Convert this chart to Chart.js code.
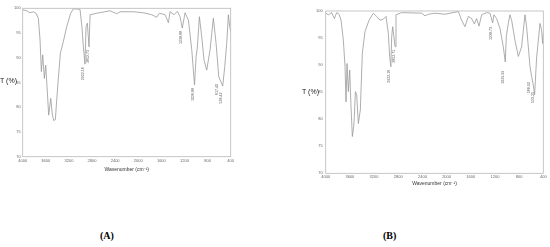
<!DOCTYPE html>
<html><head><meta charset="utf-8">
<script src="https://cdn.jsdelivr.net/npm/chart.js@4.4.1/dist/chart.umd.min.js"></script>
<style>
html,body{margin:0;padding:0;background:#fff;width:550px;height:247px;overflow:hidden;position:relative;font-family:"Liberation Sans",Arial,sans-serif}
.box{position:absolute}
.yt{position:absolute;font-size:7px;color:#222;white-space:nowrap;line-height:1}
.cap{position:absolute;font-family:"Liberation Serif","Times New Roman",serif;font-weight:bold;font-size:10px;color:#000;line-height:1;white-space:nowrap}
</style></head><body>
<div class="box" id="wA" style="left:0;top:0;width:250px;height:176px"><canvas id="cA"></canvas></div>
<div class="box" id="wB" style="left:300px;top:0;width:250px;height:190px"><canvas id="cB"></canvas></div>
<div class="yt" style="left:0px;top:77px">T (%)</div>
<div class="yt" style="left:302px;top:88px">T (%)</div>
<div class="cap" style="left:100px;top:231px">(A)</div>
<div class="cap" style="left:383px;top:231px">(B)</div>
<script>
// ---- data ----
const waveA = [4000,3931,3873,3815,3769,3729,3700,3677,3654,3625,3602,3579,3550,3515,3486,3463,3435,3411,3383,3348,3296,3238,3169,3123,3008,2973,2950,2922,2904,2881,2852,2834,2719,2488,2373,2315,2084,1911,1767,1680,1634,1536,1478,1450,1380,1323,1277,1238,1190,1132,1074,1026,999,976,942,902,861,815,757,700,653,607,584,538,503,469,440,417,400];
const transA = [99.7,99.5,99.1,99.3,99.0,98.0,93.6,87.2,90.6,85.8,88.5,84.2,78.4,81.8,78.4,77.3,77.5,81.5,85.8,90.9,93.3,96.3,99.0,99.9,99.8,96.0,92.2,88.7,96.3,97.0,92.2,98.7,99.0,99.5,98.9,99.3,99.3,99.1,98.7,98.2,99.0,98.7,97.1,99.3,98.7,99.4,98.3,96.0,99.1,97.6,91.6,84.5,90.2,92.2,98.3,94.3,89.5,87.5,91.6,98.0,92.9,86.2,85.5,84.3,88.2,92.9,98.7,96.3,95.3];
const waveB = [4000,3956,3901,3857,3818,3779,3746,3708,3680,3664,3647,3625,3603,3581,3559,3537,3526,3509,3487,3460,3427,3394,3350,3283,3212,3157,3101,3046,3002,2964,2942,2922,2908,2892,2852,2837,2743,2412,2357,2302,2192,2026,1806,1751,1696,1640,1585,1541,1503,1464,1420,1337,1282,1238,1216,1172,1117,1062,1029,1012,979,952,924,869,813,759,703,676,620,593,566,544,511,455,428,411,400];
const transB = [99.6,99.3,99.7,98.6,99.7,99.4,98.3,94.6,89.7,83.2,90.3,85.1,89.1,82.3,76.8,78.6,80.5,85.1,84.5,79.2,81.7,92.2,96.2,98.3,99.6,99.0,98.3,98.5,99.0,95.9,91.6,89.7,95.3,97.1,93.4,99.3,99.7,99.6,99.1,99.4,99.6,99.4,99.9,98.3,97.1,99.0,98.6,97.6,98.6,97.2,99.3,99.7,99.6,97.8,99.3,98.6,96.8,93.4,90.6,95.3,97.7,99.3,98.3,94.6,91.6,93.4,99.3,97.1,89.7,87.9,86.3,84.5,91.3,97.7,96.5,94.0,95.9];
const peakTextA = ["2922.16","2852.73","1238.88","1026.88","617.40","536.42"];
const peakWaveA = [2922,2852,1238,1026,615,545];
const peakTransA = [88.7,92.2,96.0,84.5,85.3,83.6];
const peakTextB = ["2922.16","2852.71","1238.73","1029.99","568.90","523.25"];
const peakWaveB = [2922,2852,1238,1040,612,550];
const peakTransB = [89.7,93.4,97.6,89.5,87.4,85.6];
const waveMin = 400, waveMax = 4000, waveStep = 400;
const tMin = 70, tMax = 100, tStep = 5;
const xTitle = "Wavenumber (cm\u207B\u00B9)";

const framePlugin = {
  id: 'frame',
  afterDatasetsDraw(chart, args, opts) {
    const {ctx, chartArea: a, scales: {x, y}} = chart;
    ctx.save();
    ctx.strokeStyle = '#b8b8b8';
    ctx.lineWidth = 0.8;
    ctx.strokeRect(a.left, a.top, a.right - a.left, a.bottom - a.top);
    ctx.fillStyle = '#555';
    ctx.font = '3.6px "Liberation Sans", Arial, sans-serif';
    ctx.textAlign = 'right';
    ctx.textBaseline = 'middle';
    opts.text.forEach((t, i) => {
      const px = x.getPixelForValue(opts.wave[i]);
      const py = y.getPixelForValue(opts.trans[i]);
      ctx.save();
      ctx.translate(px - 1.5, py + 3);
      ctx.rotate(-Math.PI / 2);
      ctx.fillText(t, 0, 0);
      ctx.restore();
    });
    ctx.restore();
  }
};

function makeChart(id, wave, trans, pk, dims) {
  const pts = wave.map((w, i) => ({x: w, y: trans[i]}));
  return new Chart(document.getElementById(id), {
    type: 'line',
    data: {datasets: [{data: pts, borderColor: '#999', borderWidth: 0.8, pointRadius: 0, tension: 0, fill: false}]},
    options: {
      responsive: true, maintainAspectRatio: false, animation: false,
      events: [],
      layout: {padding: {top: dims.top, right: dims.right, left: 0, bottom: 0}},
      plugins: {legend: {display: false}, tooltip: {enabled: false}, frame: pk},
      scales: {
        x: {
          type: 'linear', reverse: true, min: waveMin, max: waveMax,
          grid: {display: false, drawTicks: false}, border: {display: false},
          ticks: {stepSize: waveStep, autoSkip: false, maxRotation: 0, minRotation: 0, padding: dims.xpad,
                  color: '#666', font: {size: 4, family: '"Liberation Sans", Arial, sans-serif'},
                  callback: v => String(v)},
          title: {display: true, text: xTitle, color: '#333', padding: {top: 0, bottom: dims.tpad},
                  font: {size: 5, family: '"Liberation Sans", Arial, sans-serif'}},
          afterFit(s) { s.height = dims.xh; }
        },
        y: {
          min: tMin, max: tMax,
          grid: {display: false, drawTicks: false}, border: {display: false},
          ticks: {stepSize: tStep, padding: dims.ypad, color: '#666',
                  font: {size: 4, family: '"Liberation Sans", Arial, sans-serif'},
                  callback: v => String(v)},
          afterFit(s) { s.width = dims.yw; }
        }
      }
    },
    plugins: [framePlugin]
  });
}

makeChart('cA', waveA, transA, {text: peakTextA, wave: peakWaveA, trans: peakTransA},
  {top: 8.3, right: 19.3, xh: 19.3, yw: 22.7, xpad: 1.5, ypad: 2, tpad: 3});
makeChart('cB', waveB, transB, {text: peakTextB, wave: peakWaveB, trans: peakTransB},
  {top: 11, right: 6.7, xh: 16.7, yw: 25.7, xpad: 1.5, ypad: 3, tpad: 3});
</script>
</body></html>
